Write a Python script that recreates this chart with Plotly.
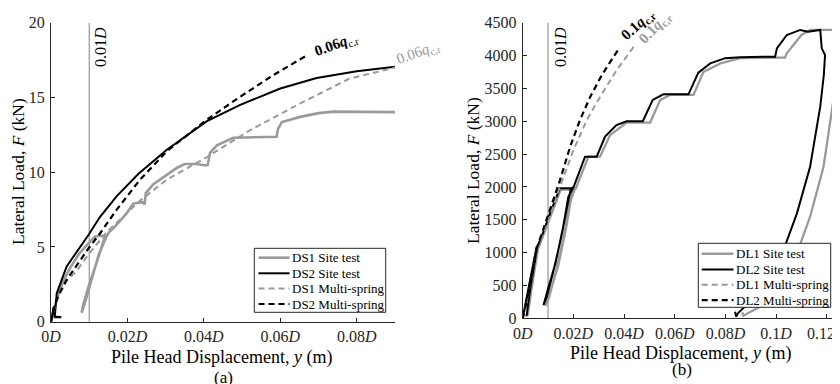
import plotly.graph_objects as go

# ---------------- Panel (a) data (x in units of D, F in kN) ----------------
ds1_site_x = [0, 0.0005, 0.0015, 0.003, 0.005, 0.0075, 0.0100, 0.0115, 0.0130, 0.0142,
              0.0120, 0.0100, 0.0085, 0.0080, 0.0088, 0.0105, 0.0125, 0.0145, 0.0152,
              0.0165, 0.0198, 0.0215, 0.0240, 0.0245, 0.0248, 0.0268, 0.0300, 0.0330,
              0.0350, 0.0380, 0.0405, 0.0410, 0.0416, 0.0434, 0.0477, 0.0590, 0.0594,
              0.0604, 0.0652, 0.0700, 0.0740, 0.0800, 0.0900]
ds1_site_y = [0, 0.5, 1.5, 2.6, 3.6, 4.6, 5.3, 5.7, 5.75, 5.75,
              4.0, 2.5, 1.2, 0.6, 1.2, 2.8, 4.5, 5.7, 6.0,
              6.3, 7.25, 7.9, 8.0, 7.85, 8.6, 9.2, 9.8, 10.3,
              10.55, 10.55, 10.45, 10.5, 11.3, 11.8, 12.3, 12.37, 12.9,
              13.35, 13.7, 13.95, 14.05, 14.02, 14.02]

ds2_site_x = [0, 0.0007, 0.0010, 0.0027, 0.0010, 0.0015, 0.0041, 0.0098, 0.0128, 0.0172,
              0.0229, 0.0303, 0.0407, 0.0495, 0.0600, 0.0695, 0.0800, 0.0900]
ds2_site_y = [0, 1.0, 0.3, 0.3, 0.35, 1.9, 3.7, 5.8, 7.0, 8.4,
              9.9, 11.5, 13.4, 14.5, 15.6, 16.3, 16.75, 17.05]

ds1_ms_x = [0, 0.001, 0.002, 0.004, 0.0067, 0.0098, 0.0146, 0.0233, 0.0303, 0.0407,
            0.0520, 0.0652, 0.0780, 0.0880, 0.0900]
ds1_ms_y = [0, 1.0, 1.7, 2.7, 3.4, 4.5, 6.0, 8.1, 9.5, 11.0,
            12.8, 14.6, 16.25, 16.85, 17.0]

ds2_ms_x = [0, 0.001, 0.002, 0.0041, 0.0098, 0.0128, 0.0172, 0.0233, 0.0303, 0.0407,
            0.0495, 0.0582, 0.0665]
ds2_ms_y = [0, 1.1, 1.8, 2.8, 4.9, 5.9, 7.5, 9.5, 11.4, 13.5,
            15.05, 16.5, 17.75]

# ---------------- Panel (b) data ----------------
dl1_site_x = [0, 0.0015, 0.0035, 0.0058, 0.0040, 0.0020, 0.0035, 0.0060, 0.0085, 0.0115,
              0.0150, 0.0205, 0.0190, 0.0170, 0.0140, 0.0110, 0.0090, 0.0105, 0.0130,
              0.0160, 0.0183, 0.0195, 0.0210, 0.0259, 0.0305, 0.0345, 0.0410, 0.0503,
              0.0542, 0.0580, 0.0674, 0.0713, 0.0780, 0.0858, 0.1035, 0.1042, 0.1100,
              0.1134, 0.1240, 0.1246, 0.1246, 0.1240, 0.1226, 0.1187, 0.1134, 0.1082,
              0.1016, 0.0950, 0.0890, 0.0871, 0.0866]
dl1_site_y = [0, 300, 650, 1060, 650, 40, 450, 1050, 1300, 1620,
              1960, 1960, 1800, 1350, 800, 420, 190, 330, 700,
              1200, 1700, 1960, 1980, 2460, 2460, 2790, 2980, 2980,
              3320, 3400, 3400, 3750, 3880, 3960, 3970, 4034, 4313,
              4390, 4390, 4313, 3960, 3400, 3323, 2308, 1547, 989,
              482, 203, 80, 40, 90]

dl2_site_x = [0, 0.0013, 0.0030, 0.0055, 0.0035, 0.0015, 0.0030, 0.0057, 0.0080, 0.0110,
              0.0147, 0.0198, 0.0180, 0.0160, 0.0130, 0.0100, 0.0082, 0.0095, 0.0120,
              0.0150, 0.0175, 0.0190, 0.0200, 0.0246, 0.0292, 0.0325, 0.0370, 0.0410,
              0.0474, 0.0513, 0.0555, 0.0654, 0.0693, 0.0740, 0.0799, 0.0858, 0.0996,
              0.1003, 0.1042, 0.1095, 0.1126, 0.1174, 0.1180, 0.1193, 0.1188, 0.1174,
              0.1134, 0.1082, 0.1029, 0.0963, 0.0897, 0.0850, 0.0842, 0.0838]
dl2_site_y = [0, 280, 600, 1090, 600, 30, 450, 1080, 1300, 1620,
              1980, 1980, 1850, 1400, 850, 450, 200, 330, 700,
              1200, 1700, 1980, 1990, 2460, 2460, 2765, 2940, 3000,
              3000, 3325, 3410, 3410, 3740, 3880, 3960, 3975, 3983,
              4110, 4313, 4390, 4363, 4390, 4110, 4008, 3700, 3222,
              2308, 1598, 1040, 533, 254, 80, 25, 100]

dl1_ms_x = [0, 0.002, 0.0055, 0.0101, 0.0147, 0.0200, 0.0253, 0.0305, 0.0371, 0.0417, 0.0443]
dl1_ms_y = [0, 320, 1040, 1500, 2000, 2560, 3020, 3370, 3780, 4030, 4160]

dl2_ms_x = [0, 0.002, 0.0055, 0.0101, 0.0147, 0.0187, 0.0226, 0.0266, 0.0312, 0.0358, 0.0377]
dl2_ms_y = [0, 330, 1060, 1570, 2100, 2610, 3020, 3370, 3700, 3980, 4090]

ref_x = [0.01, 0.01]
ref_a_y = [0, 20]
ref_b_y = [0, 4500]

a_tickvals = [0, 0.02, 0.04, 0.06, 0.08]
a_ticktext = ["0<i>D</i>", "0.02<i>D</i>", "0.04<i>D</i>", "0.06<i>D</i>", "0.08<i>D</i>"]
b_tickvals = [0, 0.02, 0.04, 0.06, 0.08, 0.1, 0.12]
b_ticktext = ["0<i>D</i>", "0.02<i>D</i>", "0.04<i>D</i>", "0.06<i>D</i>", "0.08<i>D</i>",
              "0.1<i>D</i>", "0.12<i>D</i>"]
a_yticks = [0, 5, 10, 15, 20]
b_yticks = [0, 500, 1000, 1500, 2000, 2500, 3000, 3500, 4000, 4500]

a_names = ["DS1 Site test", "DS2 Site test", "DS1 Multi-spring", "DS2 Multi-spring"]
b_names = ["DL1 Site test", "DL2 Site test", "DL1 Multi-spring", "DL2 Multi-spring"]

GREY = "#9a9a9a"
BLACK = "#000000"
AX = "#262626"
DASH = "6px,4px"
FONT = "Liberation Serif, Times New Roman, serif"

# The page body has an 8px margin; size the figure to fit the 840x384 window.
OFF = 8
W, H = 840 - OFF, 384 - OFF

def px(xp):
    return (xp - OFF) / W

def py(yp):
    return (H - (yp - OFF)) / H

styles = [(GREY, "solid", 2.6), (BLACK, "solid", 2.0), (GREY, DASH, 2.0), (BLACK, DASH, 2.2)]

fig = go.Figure()

def add(x, y, name, style, xa, ya, color=None, width=None):
    c, d, w = style
    fig.add_trace(go.Scatter(
        x=x, y=y, name=name, mode="lines", xaxis=xa, yaxis=ya,
        showlegend=False, hoverinfo="skip",
        line=dict(color=color or c, width=width or w, dash=d)))

# reference lines at 0.01D
add(ref_x, ref_a_y, "0.01D", ("#808080", "solid", 1), "x", "y")
add(ref_x, ref_b_y, "0.01D", ("#808080", "solid", 1), "x2", "y2")

# panel a
add(ds1_site_x, ds1_site_y, a_names[0], styles[0], "x", "y")
add(ds2_site_x, ds2_site_y, a_names[1], styles[1], "x", "y")
add(ds1_ms_x, ds1_ms_y, a_names[2], styles[2], "x", "y")
add(ds2_ms_x, ds2_ms_y, a_names[3], styles[3], "x", "y")

# panel b
add(dl1_site_x, dl1_site_y, b_names[0], styles[0], "x2", "y2", width=2.3)
add(dl2_site_x, dl2_site_y, b_names[1], styles[1], "x2", "y2")
add(dl1_ms_x, dl1_ms_y, b_names[2], styles[2], "x2", "y2")
add(dl2_ms_x, dl2_ms_y, b_names[3], styles[3], "x2", "y2")

axis_common = dict(showline=True, linecolor=AX, linewidth=1, ticks="inside", ticklen=4,
                   tickcolor=AX, tickwidth=1, showgrid=False, zeroline=False, mirror=False,
                   tickfont=dict(family=FONT, size=16, color=AX), fixedrange=True,
                   automargin=False, ticklabeloverflow="allow")

fig.update_layout(
    width=W, height=H, margin=dict(l=0, r=0, t=0, b=0, autoexpand=False),
    paper_bgcolor="white", plot_bgcolor="white", showlegend=False,
    xaxis=dict(domain=[px(51), px(395)], range=[0, 0.09], anchor="y",
               tickvals=a_tickvals, ticktext=a_ticktext, ticklabelstandoff=0, **axis_common),
    yaxis=dict(domain=[py(321.7), py(22.7)], range=[0, 20], anchor="x",
               tickvals=a_yticks, ticklabelstandoff=2, **axis_common),
    xaxis2=dict(domain=[px(522.7), px(839.5)], range=[0, 0.125], anchor="y2",
                tickvals=b_tickvals, ticktext=b_ticktext, ticklabelstandoff=0, **axis_common),
    yaxis2=dict(domain=[py(318.3), py(22.7)], range=[0, 4500], anchor="x2",
                tickvals=b_yticks, ticklabelstandoff=2, **axis_common),
)

def ann(text, x, y, size=18, color=BLACK, angle=0, xanchor="center"):
    fig.add_annotation(text=text, x=x, y=y, xref="paper", yref="paper", showarrow=False,
                       textangle=angle, font=dict(family=FONT, size=size, color=color),
                       xanchor=xanchor, yanchor="middle")

# legends (MATLAB-style boxes)
def legend_box(names, x0, x1, y0, y1, s0, s1, tx, rows):
    fig.add_shape(type="rect", xref="paper", yref="paper",
                  x0=px(x0), x1=px(x1), y0=py(y1), y1=py(y0),
                  line=dict(color=AX, width=1), fillcolor="white", layer="above")
    for name, (c, d, w), ry in zip(names, styles, rows):
        fig.add_shape(type="line", xref="paper", yref="paper",
                      x0=px(s0), x1=px(s1), y0=py(ry), y1=py(ry),
                      line=dict(color=c, width=w, dash=d), layer="above")
        ann(name, px(tx), py(ry), size=13, xanchor="left")

legend_box(a_names, 254.3, 385.7, 248.3, 312.3, 258.5, 289.5, 289.5, [257.7, 273.3, 288.6, 304.0])
legend_box(b_names, 698.3, 830.7, 243.3, 307.3, 701.7, 733.5, 733.5, [253.8, 269.4, 284.8, 300.2])

# axis titles and panel labels
ann("Lateral Load, <i>F</i> (kN)", px(18), py(172), size=17.5, angle=-90)
ann("Lateral Load, <i>F</i> (kN)", px(473), py(170), size=17.5, angle=-90)
ann("Pile Head Displacement, <i>y</i> (m)", px(222), py(357))
ann("Pile Head Displacement, <i>y</i> (m)", px(680), py(353.5))
ann("(a)", px(223), py(377), size=17)
ann("(b)", px(681.5), py(369), size=17)

# 0.01D labels
ann("0.01<i>D</i>", px(101), py(47), size=16, angle=-90)
ann("0.01<i>D</i>", px(561), py(47), size=16, angle=-90)

# q_c,r labels
ann("<b>0.06<i>q</i></b><sub>c,r</sub>", px(336), py(45), size=15, color=BLACK, angle=-20)
ann("0.06<i>q</i><sub>c,r</sub>", px(418), py(53), size=15, color=GREY, angle=-20)
ann("<b>0.1<i>q</i><sub>c,r</sub></b>", px(638), py(25), size=15, color=BLACK, angle=-42)
ann("<b>0.1<i>q</i><sub>c,r</sub></b>", px(655), py(28), size=15, color=GREY, angle=-46)

fig.write_html("out.html")
